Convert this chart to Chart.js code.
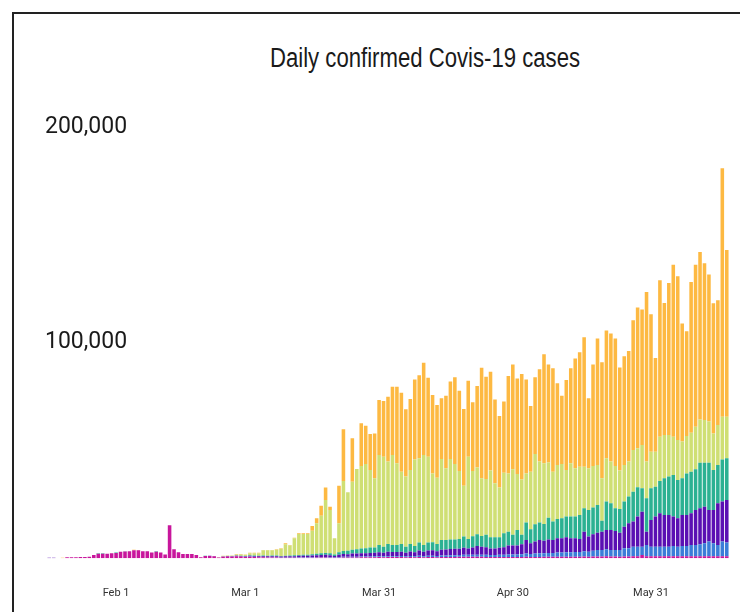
<!DOCTYPE html>
<html>
<head>
<meta charset="utf-8">
<script src="https://cdn.jsdelivr.net/npm/chart.js@4"></script>
<style>
  body { margin: 0; width: 740px; height: 612px; overflow: hidden; background: #fff; }
  #frame { position: absolute; left: 12px; top: 12px; width: 780px; height: 660px; border: 2px solid #222; }
  #title { position: absolute; left: 175px; top: 42px; width: 500px; text-align: center;
    font: 27px/32px "Liberation Sans", sans-serif; color: #1a1a1a;
    transform: scaleX(0.82); transform-origin: 250px 0; }
  #chart { position: absolute; left: 0; top: 0; }
</style>
</head>
<body>
<div id="frame"></div>
<div id="title">Daily confirmed Covis-19 cases</div>
<canvas id="chart" width="740" height="612"></canvas>
<script>
// days from Jan 17 to Jun 17
const monthRuns = [["Jan", 17, 31], ["Feb", 1, 29], ["Mar", 1, 31], ["Apr", 1, 30], ["May", 1, 31], ["Jun", 1, 17]];
const days = [];
monthRuns.forEach(([m, a, b]) => { for (let d = a; d <= b; d++) days.push(m + " " + d); });

const xTickLabels = ["Feb 1", "Mar 1", "Mar 31", "Apr 30", "May 31"];
const yTickValues = [100000, 200000];

// stacked from the bottom up
const magenta = [
  0,0,0,0,500,500,500,600,600,700,
  1500,2100,2100,2100,2300,2500,3000,3200,3300,3700,
  3700,3300,3300,2700,3100,2700,1800,15400,4200,2800,
  2000,2000,2000,1500,500,1100,1100,1000,400,700,
  800,700,900,800,600,700,600,500,500,400,
  400,400,300,300,300,300,300,300,300,300,
  400,400,400,300,300,300,400,400,400,400,
  500,500,500,500,600,500,600,600,600,600,
  500,600,500,600,500,600,600,500,600,600,
  600,600,700,700,700,700,700,700,600,600,
  600,600,600,600,600,600,600,700,600,600,
  600,700,700,700,700,700,700,700,700,700,
  800,700,800,800,800,900,800,800,700,800,
  800,900,900,1500,900,900,900,1000,1000,1000,
  900,900,900,900,1000,1000,1000,1000,1000,1000,
  1000,1000,1000
];
const blue = [
  0,0,0,0,0,0,0,0,0,0,
  0,0,0,0,0,0,0,0,0,0,
  0,0,0,0,0,0,0,0,0,0,
  0,0,0,0,0,0,0,100,0,0,
  0,0,0,0,100,100,100,100,100,100,
  100,100,100,100,100,100,150,150,150,200,
  200,200,200,200,200,200,300,300,300,300,
  300,300,300,400,400,400,400,400,400,500,
  400,500,500,600,500,600,600,600,700,700,
  800,800,800,900,900,900,1000,1000,1000,900,
  900,1000,1000,1200,1200,1200,1300,1500,1400,1600,
  1700,1700,1800,1800,2000,2000,2100,2100,2200,2200,
  2500,2400,2700,3100,3100,3300,3100,3100,3200,3900,
  3900,4500,4500,3900,5300,4500,4500,4400,4400,4400,
  4800,4500,4800,4800,5200,5200,5500,6000,6800,6000,
  5200,6800,6400
];
const purple = [
  300,300,0,0,0,0,0,0,0,0,
  0,0,0,0,0,0,0,0,0,0,
  0,0,0,0,0,0,0,0,0,0,
  0,0,0,0,0,0,100,0,0,100,
  300,200,300,300,300,400,400,400,400,400,
  500,500,400,500,600,600,700,700,700,800,
  800,900,1000,900,600,1100,1300,1200,1500,1500,
  1600,1600,1700,1700,1800,1700,2000,1900,1900,2000,
  1700,2100,1800,2400,2100,2400,2500,2200,2700,2800,
  2900,3000,3000,3300,3000,3400,4000,3700,3500,3100,
  3100,3300,3500,4100,4100,4100,4600,6300,5000,5600,
  6200,5800,6300,6000,6600,6600,7000,6500,6400,6100,
  9100,7000,7700,8000,8500,9000,9300,8800,8000,10000,
  11600,11700,14000,16300,6200,12400,14000,15500,14800,14800,
  13700,13200,14500,14500,14700,16300,16800,17000,14700,15500,
  19400,18600,19700
];
const teal = [
  0,0,0,0,0,0,0,0,0,0,
  0,200,200,0,0,200,0,100,0,0,
  0,0,0,0,200,0,0,0,0,0,
  0,0,0,0,0,100,0,0,0,0,
  0,100,100,100,100,200,200,200,300,300,
  300,300,300,300,300,400,400,500,500,600,
  700,800,900,900,700,1200,1400,1600,1800,2000,
  2200,2300,2500,2400,3400,2800,3700,3300,3300,3600,
  2800,3500,2900,3700,3100,3700,3800,3400,4500,4400,
  4500,4400,4500,5200,4400,5200,5500,5000,5800,5200,
  5200,4900,6500,6500,5000,7300,4400,8100,6500,8000,
  8100,7800,10100,8600,9000,9300,9600,10100,10100,11200,
  10900,12400,12400,12900,5100,13200,12400,10600,11000,11700,
  12400,13900,13600,10900,15500,14800,13900,15100,17000,17800,
  19400,17800,17000,19300,19400,18900,21200,20500,22000,18600,
  17800,19600,19400
];
const green = [
  0,0,0,0,0,0,0,0,0,0,
  0,0,0,0,0,0,0,0,0,0,
  0,0,0,0,0,0,0,0,0,0,
  0,0,0,0,0,0,0,0,100,400,
  200,300,500,600,500,1000,1100,1200,2400,2500,
  2400,2700,3350,5300,4700,7900,9700,9600,9600,10900,
  14200,17500,24600,20200,7500,13500,32600,27200,31600,37300,
  38300,39200,36100,32200,41800,41900,38300,41800,38000,33600,
  32600,34400,40300,39200,41800,40000,32000,30800,37700,33400,
  37400,35100,31600,23700,38300,30400,31000,26800,26000,31000,
  25100,23100,28200,27100,30500,26000,25800,22900,26800,32700,
  28400,28200,25700,23200,25100,25300,21700,24800,22500,22400,
  19300,19400,19300,18600,19700,20100,19400,19600,17900,17000,
  16300,19400,18200,20100,17100,17000,16300,20600,20200,19400,
  17800,18600,17100,17400,18100,19800,20100,19800,19100,17000,
  18600,19900,19400
];
const orange = [
  0,0,0,200,0,0,0,0,0,0,
  0,0,0,0,0,0,0,0,0,300,
  200,0,0,0,0,0,0,0,0,0,
  0,0,0,0,0,0,0,0,0,0,
  0,0,200,200,200,200,200,200,200,200,
  200,200,200,500,200,300,350,350,350,2200,
  2300,4700,5800,1500,0,17500,24000,0,20200,0,
  19900,17800,16700,20900,25600,25900,30200,31800,35600,36700,
  31300,33000,37200,38700,43000,36700,36500,33800,28200,33700,
  36000,40300,37400,35700,35300,32000,37900,51500,47600,46000,
  39000,33300,33100,45300,48800,44500,49000,43700,30500,35700,
  43000,50700,45600,48100,38000,31700,41800,44200,51100,53200,
  60200,32500,47300,58900,54000,59500,59600,59400,48000,50600,
  51400,60300,65500,63100,78900,63900,43600,72700,61400,70700,
  80000,76200,54900,48700,70100,75400,77900,73000,68400,60500,
  58000,115500,77500
];

const series = [
  { data: magenta, color: "#c8169c" },
  { data: blue, color: "#3b7dd8" },
  { data: purple, color: "#5a0fb3" },
  { data: teal, color: "#2bb192" },
  { data: green, color: "#cfdf74" },
  { data: orange, color: "#fdb942" }
];

const ctx = document.querySelector("#chart").getContext("2d");

new Chart(ctx, {
  type: "bar",
  data: {
    labels: days,
    datasets: series.map(s => ({
      data: s.data,
      backgroundColor: s.color,
      borderWidth: 0,
      barPercentage: 0.8,
      categoryPercentage: 1.0
    }))
  },
  options: {
    responsive: false,
    animation: false,
    layout: { padding: { left: 47, right: 11, top: 94, bottom: 0 } },
    plugins: { legend: { display: false }, tooltip: { enabled: false } },
    scales: {
      x: {
        stacked: true,
        grid: { display: false, drawTicks: false },
        border: { display: false },
        ticks: {
          autoSkip: false,
          maxRotation: 0,
          minRotation: 0,
          padding: 28,
          color: "#333",
          font: { family: "Roboto", size: 11 },
          callback: function (value) {
            const l = this.getLabelForValue(value);
            return xTickLabels.includes(l) ? l : "";
          }
        },
        afterFit: scale => { scale.height = 53.7; scale.paddingLeft = 0; scale.paddingRight = 0; }
      },
      y: {
        stacked: true,
        min: 0,
        max: 216000,
        grid: { display: false, drawTicks: false },
        border: { display: false },
        afterBuildTicks: scale => { scale.ticks = yTickValues.map(v => ({ value: v })); },
        ticks: {
          mirror: true,
          padding: -2,
          labelOffset: -1,
          color: "#1a1a1a",
          font: { family: "Roboto", size: 23 },
          callback: v => v.toLocaleString("en-US")
        },
        afterFit: scale => { scale.width = 0; }
      }
    }
  }
});
</script>
</body>
</html>
